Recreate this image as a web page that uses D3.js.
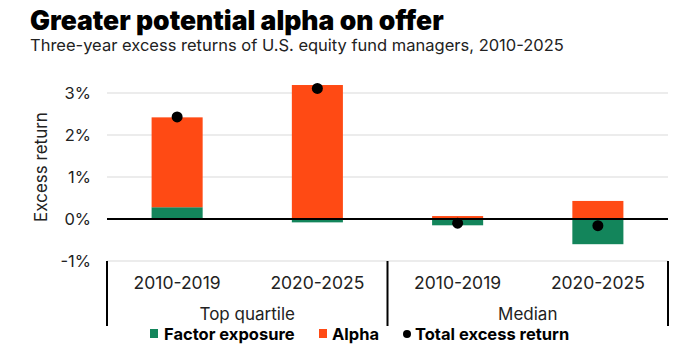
<!DOCTYPE html>
<html>
<head>
<meta charset="utf-8">
<script src="https://cdn.jsdelivr.net/npm/d3@7"></script>
<style>
  body { margin: 0; background: #fff; }
</style>
</head>
<body>
<div id="container"></div>
<script>
// data
let periods = ["2010-2019", "2020-2025", "2010-2019", "2020-2025"];
let groups = ["Top quartile", "Top quartile", "Median", "Median"];
let factorValues = [0.28, -0.08, -0.15, -0.60];
let alphaValues = [2.14, 3.19, 0.07, 0.43];
let totalValues = [2.43, 3.11, -0.10, -0.16];
let yTicks = [-1, 0, 1, 2, 3];

let w = 699;
let h = 350;
let left = 107;
let right = 668;

let green = "#13855B";
let orange = "#FF4A14";

let viz = d3.select("#container")
  .append("svg")
    .attr("width", w)
    .attr("height", h)
    .style("background-color", "white")
;

viz.append("text")
  .text("Greater potential alpha on offer")
  .attr("x", 30)
  .attr("y", 30)
  .attr("font-family", "Inter, sans-serif")
  .attr("font-weight", 900)
  .attr("font-size", 26.5)
  .attr("fill", "#000")
;

viz.append("text")
  .text("Three-year excess returns of U.S. equity fund managers, 2010-2025")
  .attr("x", 30)
  .attr("y", 51)
  .attr("font-family", "Inter, sans-serif")
  .attr("font-size", 16.5)
  .attr("fill", "#222")
;

let yScale = d3.scaleLinear().domain([-1, 3]).range([261, 93]);
let xScale = d3.scaleBand()
  .domain(d3.range(periods.length))
  .range([left, right])
  .paddingInner(0.636)
  .paddingOuter(0.318)
;

// gridlines
viz.append("g").selectAll("line")
  .data(yTicks.filter(function(d){ return d != 0; }))
  .enter()
  .append("line")
    .attr("x1", left)
    .attr("x2", right)
    .attr("y1", function(d){ return yScale(d); })
    .attr("y2", function(d){ return yScale(d); })
    .attr("stroke", "#dadada")
    .attr("stroke-width", 1.2)
;

// y axis labels
let yAxis = d3.axisLeft(yScale)
  .tickValues(yTicks)
  .tickSize(0)
  .tickPadding(16)
  .tickFormat(function(d){ return d + "%"; });
let yAxisGroup = viz.append("g")
  .attr("transform", "translate(" + left + ",0)")
  .call(yAxis);
yAxisGroup.select(".domain").remove();
yAxisGroup.selectAll("text")
  .attr("font-family", "Inter, sans-serif")
  .attr("font-size", 16.5)
  .attr("fill", "#222");

viz.append("text")
  .text("Excess return")
  .attr("transform", "translate(47, 167) rotate(-90)")
  .attr("text-anchor", "middle")
  .attr("font-family", "Inter, sans-serif")
  .attr("font-size", 17)
  .attr("fill", "#222")
;

// stacked bars: factor from zero, alpha stacked on top of any positive factor
function factorY(d, i){ return yScale(Math.max(0, d)); }
function factorH(d, i){ return Math.abs(yScale(0) - yScale(d)); }

viz.append("g").selectAll("rect")
  .data(factorValues)
  .enter()
  .append("rect")
    .attr("x", function(d, i){ return xScale(i); })
    .attr("width", xScale.bandwidth())
    .attr("y", factorY)
    .attr("height", factorH)
    .attr("fill", green)
;

viz.append("g").selectAll("rect")
  .data(alphaValues)
  .enter()
  .append("rect")
    .attr("x", function(d, i){ return xScale(i); })
    .attr("width", xScale.bandwidth())
    .attr("y", function(d, i){
      let base = Math.max(0, factorValues[i]);
      return yScale(base + d);
    })
    .attr("height", function(d, i){ return yScale(0) - yScale(d); })
    .attr("fill", orange)
;

// zero line
viz.append("line")
  .attr("x1", left)
  .attr("x2", right)
  .attr("y1", yScale(0))
  .attr("y2", yScale(0))
  .attr("stroke", "#000")
  .attr("stroke-width", 2)
;

// total dots
viz.append("g").selectAll("circle")
  .data(totalValues)
  .enter()
  .append("circle")
    .attr("cx", function(d, i){ return xScale(i) + xScale.bandwidth() / 2; })
    .attr("cy", function(d){ return yScale(d); })
    .attr("r", 5.5)
    .attr("fill", "#000")
;

// category labels
viz.append("g").selectAll("text")
  .data(periods)
  .enter()
  .append("text")
    .text(function(d){ return d; })
    .attr("x", function(d, i){ return xScale(i) + xScale.bandwidth() / 2; })
    .attr("y", 289)
    .attr("text-anchor", "middle")
    .attr("font-family", "Inter, sans-serif")
    .attr("font-size", 17.5)
    .attr("fill", "#222")
;

let groupNames = Array.from(new Set(groups));
let step = xScale.step();
viz.append("g").selectAll("text")
  .data(groupNames)
  .enter()
  .append("text")
    .text(function(d){ return d; })
    .attr("x", function(d, i){ return left + step * (2 * i + 1); })
    .attr("y", 320)
    .attr("text-anchor", "middle")
    .attr("font-family", "Inter, sans-serif")
    .attr("font-size", 17)
    .attr("fill", "#222")
;

// group separators
viz.append("g").selectAll("line")
  .data([0, 1, 2])
  .enter()
  .append("line")
    .attr("x1", function(d){ return left + step * 2 * d; })
    .attr("x2", function(d){ return left + step * 2 * d; })
    .attr("y1", yScale(-1))
    .attr("y2", 326)
    .attr("stroke", "#000")
    .attr("stroke-width", 2)
;

// legend
let legend = viz.append("g").attr("class", "legend");
legend.append("rect").attr("x", 150).attr("y", 329).attr("width", 8).attr("height", 9).attr("fill", green);
legend.append("text").text("Factor exposure")
  .attr("x", 164).attr("y", 340)
  .attr("font-family", "Inter, sans-serif").attr("font-weight", 700).attr("font-size", 16.5).attr("fill", "#000");
legend.append("rect").attr("x", 319).attr("y", 329).attr("width", 8).attr("height", 9).attr("fill", orange);
legend.append("text").text("Alpha")
  .attr("x", 332).attr("y", 340)
  .attr("font-family", "Inter, sans-serif").attr("font-weight", 700).attr("font-size", 16.5).attr("fill", "#000");
legend.append("circle").attr("cx", 407).attr("cy", 334).attr("r", 4).attr("fill", "#000");
legend.append("text").text("Total excess return")
  .attr("x", 415).attr("y", 340)
  .attr("font-family", "Inter, sans-serif").attr("font-weight", 700).attr("font-size", 16.5).attr("fill", "#000");
</script>
</body>
</html>
